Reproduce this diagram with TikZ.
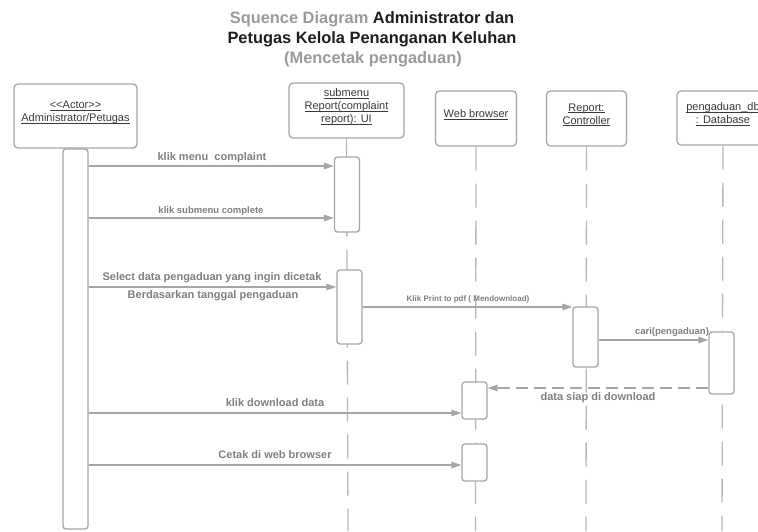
\documentclass[tikz,border=0pt]{standalone}
\usepackage{fontspec}
\setmainfont{Liberation Sans}
\usetikzlibrary{arrows.meta}

\definecolor{edge}{HTML}{A6A6A6}
\definecolor{life}{HTML}{B8B8B8}
\definecolor{lbl}{HTML}{808080}
\definecolor{boxtxt}{HTML}{3A3A3A}
\definecolor{ttlgray}{HTML}{9A9A9A}
\definecolor{ttlblack}{HTML}{1E1E1E}

% underline sitting just below the baseline
\newcommand\ulbl[1]{\underline{\smash{#1}}}

\tikzset{
  part/.style={draw=edge, line width=1.3pt, rounded corners=4pt, fill=white,
    align=center, text=boxtxt, font=\fontsize{11}{13}\selectfont, inner sep=0pt},
  actbar/.style={draw=edge, line width=1.3pt, rounded corners=3pt, fill=white,
    minimum width=25pt, inner sep=0pt},
  lifeline/.style={draw=life, line width=1.3pt, dash pattern=on 24pt off 13pt},
  msg/.style={draw=edge, line width=1.3pt, -{Triangle[length=10pt,width=6.5pt]}},
  ret/.style={msg, dash pattern=on 12pt off 6pt},
  msglbl/.style={text=lbl, font=\bfseries\fontsize{11}{13}\selectfont,
    anchor=base, inner sep=0pt},
  ttl/.style={font=\bfseries\fontsize{16.4}{20}\selectfont, anchor=base, inner sep=0pt},
}

\begin{document}
\begin{tikzpicture}[x=1pt, y=-1pt]
\useasboundingbox[fill=white] (0,0) rectangle (758,531);

% title
\node[ttl] (title1) at (372,23) {\textcolor{ttlgray}{Squence Diagram} \textcolor{ttlblack}{Administrator dan}};
\node[ttl, text=ttlblack] (title2) at (372,43) {Petugas Kelola Penanganan Keluhan};
\node[ttl, text=ttlgray] (title3) at (373,63) {(Mencetak pengaduan)};

% participants
\node[part, minimum width=123pt, minimum height=64pt] (actor) at (75.5,116)
  {\ulbl{<\kern0pt<Actor>\kern0pt>}\\\ulbl{Administrator/Petugas}};
\node[part, minimum width=115pt, minimum height=55pt] (ui) at (346.5,110.5)
  {\ulbl{submenu}\\\ulbl{Report(complaint}\\\ulbl{report): UI}};
\node[part, minimum width=81pt, minimum height=55pt] (web) at (476,118.5)
  {\ulbl{Web browser}};
\node[part, minimum width=80pt, minimum height=55pt] (ctrl) at (586.5,118.5)
  {\ulbl{Report:}\\\ulbl{Controller}};
\node[part, minimum width=92pt, minimum height=54pt] (db) at (723,118)
  {\ulbl{pengaduan\_db}\\\ulbl{: Database}};

% lifelines
\draw[lifeline] (ui.south) -- (348,531);
\draw[lifeline] (web.south) -- (475.5,531);
\draw[lifeline] (ctrl.south) -- (586,531);
\draw[lifeline] (db.south) -- (722,531);

% activation bars
\node[actbar, minimum height=380pt] (a0) at (75.5,339) {};
\draw[draw=edge, line width=1.3pt] (actor.south) -- (a0.north);
\node[actbar, minimum height=75pt] (s1) at (347,194.5) {};
\node[actbar, minimum height=74pt] (s2) at (349.5,307) {};
\node[actbar, minimum height=60pt] (c1) at (585.5,337) {};
\node[actbar, minimum height=62pt] (d1) at (721.5,363) {};
\node[actbar, minimum height=37pt] (w1) at (474.5,400.5) {};
\node[actbar, minimum height=37pt] (w2) at (474.5,462.5) {};

% messages
\draw[msg] (a0.east |- 0,166) -- (s1.west |- 0,166);
\node[msglbl] (l1) at (212,160) {klik menu\ \ complaint};

\draw[msg] (a0.east |- 0,218) -- (s1.west |- 0,218);
\node[msglbl, font=\bfseries\fontsize{9.5}{11}\selectfont] (l2) at (211,213) {klik submenu complete};

\draw[msg] (a0.east |- 0,287) -- (s2.west |- 0,287);
\node[msglbl] (l3a) at (212,280) {Select data pengaduan yang ingin dicetak};
\node[msglbl] (l3b) at (213,298) {Berdasarkan tanggal pengaduan};

\draw[msg] (s2.east |- 0,307) -- (c1.west |- 0,307);
\node[msglbl, font=\bfseries\fontsize{8}{10}\selectfont] (l4) at (468,301) {Klik Print to pdf ( Mendownload)};

\draw[msg] (c1.east |- 0,340) -- (d1.west |- 0,340);
\node[msglbl, font=\bfseries\fontsize{9.5}{11}\selectfont] (l5) at (672,334) {cari(pengaduan)};

\draw[ret] (d1.west |- 0,388) -- (w1.east |- 0,388);
\node[msglbl] (l6) at (598,400) {data siap di download};

\draw[msg] (a0.east |- 0,413) -- (w1.west |- 0,413);
\node[msglbl] (l7) at (275,406) {klik download data};

\draw[msg] (a0.east |- 0,465) -- (w2.west |- 0,465);
\node[msglbl] (l8) at (275,458) {Cetak di web browser};
\end{tikzpicture}
\end{document}
